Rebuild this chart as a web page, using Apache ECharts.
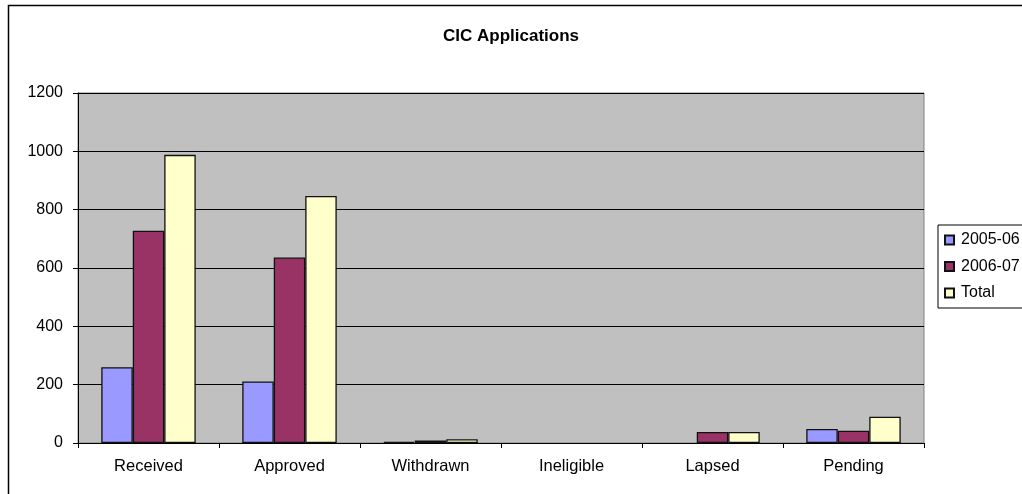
<!DOCTYPE html>
<html>
<head>
<meta charset="utf-8">
<script src="https://cdn.jsdelivr.net/npm/echarts@6/dist/echarts.min.js"></script>
<style>
  html, body { margin: 0; padding: 0; background: #fff; }
  #chart { width: 1022px; height: 494px; }
</style>
</head>
<body>
<div id="chart"></div>
<script>
// Application counts by outcome, per financial year
const categories = ['Received', 'Approved', 'Withdrawn', 'Ineligible', 'Lapsed', 'Pending'];
const seriesNames = ['2005-06', '2006-07', 'Total'];
const values2005 = [260, 211, 4, 0, 0, 48];
const values2006 = [728, 636, 9, 0, 38, 42];
const valuesTotal = [988, 847, 13, 0, 38, 90];
const yTicks = [0, 200, 400, 600, 800, 1000, 1200];

const colors = ['#9999ff', '#993366', '#ffffcc'];
const font = 'Arial, "Liberation Sans", sans-serif';

const chart = echarts.init(document.getElementById('chart'), null, { renderer: 'canvas' });

// zero-height bars keep their value but draw no outline
function toBarData(values) {
  return values.map(v => v === 0 ? { value: 0, itemStyle: { borderWidth: 0 } } : v);
}

function barSeries(name, data, color) {
  return {
    name: name,
    type: 'bar',
    data: toBarData(data),
    barGap: '0%',
    barCategoryGap: '33%',
    itemStyle: { color: color, borderColor: '#111', borderWidth: 1.3 },
    emphasis: { disabled: true }
  };
}

chart.setOption({
  animation: false,
  backgroundColor: '#ffffff',
  title: {
    text: 'CIC Applications',
    left: 'center',
    top: 23,
    textStyle: { fontFamily: font, fontSize: 17, fontWeight: 'bold', color: '#000' }
  },
  graphic: [{
    type: 'rect',
    shape: { x: 8.5, y: 5.5, width: 1040, height: 520 },
    style: { fill: 'none', stroke: '#000', lineWidth: 1.5 },
    silent: true,
    z: 100
  }],
  legend: {
    orient: 'vertical',
    left: 938,
    top: 225,
    padding: [7, 40, 7, 6],
    itemGap: 10.5,
    itemWidth: 9,
    itemHeight: 9,
    icon: 'rect',
    borderColor: '#000',
    borderWidth: 1,
    backgroundColor: '#fff',
    textStyle: { fontFamily: font, fontSize: 16, color: '#000', padding: [0, 0, 0, 2] },
    data: seriesNames
  },
  grid: {
    left: 78,
    right: 98,
    top: 93,
    bottom: 51,
    show: true,
    backgroundColor: '#c0c0c0',
    borderColor: '#808080',
    borderWidth: 1
  },
  xAxis: {
    type: 'category',
    data: categories,
    boundaryGap: true,
    axisLine: { lineStyle: { color: '#000', width: 1 } },
    axisTick: { show: true, alignWithLabel: false, length: 5, lineStyle: { color: '#000' } },
    axisLabel: { fontFamily: font, fontSize: 16.5, color: '#000', margin: 15 },
    splitLine: { show: false }
  },
  yAxis: {
    type: 'value',
    min: yTicks[0],
    max: yTicks[yTicks.length - 1],
    interval: yTicks[1] - yTicks[0],
    axisLine: { show: true, lineStyle: { color: '#000', width: 1 } },
    axisTick: { show: true, length: 5, lineStyle: { color: '#000' } },
    axisLabel: {
      fontFamily: font, fontSize: 16, color: '#000', margin: 15,
      formatter: v => String(v)
    },
    splitLine: { show: true, lineStyle: { color: '#000', width: 1 } }
  },
  series: [
    barSeries(seriesNames[0], values2005, colors[0]),
    barSeries(seriesNames[1], values2006, colors[1]),
    barSeries(seriesNames[2], valuesTotal, colors[2])
  ]
});
</script>
</body>
</html>
